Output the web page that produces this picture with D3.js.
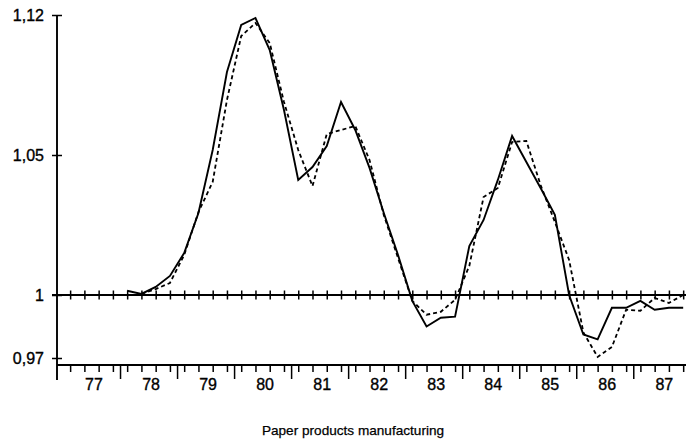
<!DOCTYPE html>
<html>
<head>
<meta charset="utf-8">
<script src="https://cdn.jsdelivr.net/npm/d3@7/dist/d3.min.js"></script>
<style>
  html, body { margin: 0; padding: 0; background: #fff; }
  svg { display: block; }
  text { font-family: "Liberation Sans", Arial, Helvetica, sans-serif; fill: #000; }
</style>
</head>
<body>
<svg id="chart" width="687" height="445"></svg>
<script>
// ---- data ----
const years = [77, 78, 79, 80, 81, 82, 83, 84, 85, 86, 87];
const yTicks = [0.97, 1, 1.05, 1.12];
const yTickLabels = ["0,97", "1", "1,05", "1,12"];
const title = "Paper products manufacturing";

// quarterly observations 78Q1 .. 87Q4
const quarters = [
  "78Q1","78Q2","78Q3","78Q4","79Q1","79Q2","79Q3","79Q4",
  "80Q1","80Q2","80Q3","80Q4","81Q1","81Q2","81Q3","81Q4",
  "82Q1","82Q2","82Q3","82Q4","83Q1","83Q2","83Q3","83Q4",
  "84Q1","84Q2","84Q3","84Q4","85Q1","85Q2","85Q3","85Q4",
  "86Q1","86Q2","86Q3","86Q4","87Q1","87Q2","87Q3","87Q4"
];
const solidSeries = [
  1.0015, 1.0004, 1.0029, 1.0068, 1.0150, 1.0293, 1.0525, 1.0915,
  1.1150, 1.1185, 1.1025, 1.0725, 1.0411, 1.0457, 1.0545, 1.0765,
  1.0625, 1.0454, 1.0293, 1.0143, 0.9972, 0.9850, 0.9892, 0.9897,
  1.0175, 1.0268, 1.0411, 1.0595, 1.0475, 1.0382, 1.0286, 1.0000,
  0.9812, 0.9789, 0.9939, 0.9939, 0.9972, 0.9930, 0.9939, 0.9939
];
const dashedSeries = [
  null,   1.0004, 1.0021, 1.0043, 1.0143, 1.0296, 1.0404, 1.0775,
  1.1095, 1.1160, 1.1060, 1.0765, 1.0525, 1.0389, 1.0605, 1.0625,
  1.0645, 1.0482, 1.0286, 1.0132, 0.9972, 0.9906, 0.9920, 0.9977,
  1.0104, 1.0350, 1.0382, 1.0565, 1.0570, 1.0393, 1.0261, 1.0125,
  0.9822, 0.9705, 0.9752, 0.9930, 0.9925, 0.9986, 0.9962, 1.0000
];

// ---- helpers ----
const qTime = q => (+q.slice(0, 2)) + ((+q.slice(3)) - 0.5) / 4;

const svg = d3.select("#chart");

const x = d3.scaleLinear().domain([77, 88]).range([63, 690.3]);
const y = d3.scaleLinear().domain([0.97, 1, 1.05, 1.12]).range([358, 295, 155, 15]);

const axisX0 = 57, axisXEnd = 686, bottomY = 365;

// all quarter mid positions 77Q1 .. 87Q4
const quarterMids = [];
years.forEach(yr => { for (let q = 1; q <= 4; q++) quarterMids.push(yr + (q - 0.5) / 4); });
const yearBounds = years.slice(1);
const yearCenters = years.map(yr => yr + 0.5);

const stroke = "#000";
const textStyle = sel => sel
  .style("font-family", '"Liberation Sans", Arial, sans-serif')
  .attr("stroke", "#000").attr("stroke-width", 0.35);

// y axis line
svg.append("line")
  .attr("x1", axisX0).attr("x2", axisX0)
  .attr("y1", y(1.12)).attr("y2", 380)
  .attr("stroke", stroke).attr("stroke-width", 1.9);

// bottom axis line
svg.append("line")
  .attr("x1", axisX0).attr("x2", axisXEnd)
  .attr("y1", bottomY).attr("y2", bottomY)
  .attr("stroke", stroke).attr("stroke-width", 1.9);

// line at 1
svg.append("line")
  .attr("x1", 52).attr("x2", axisXEnd)
  .attr("y1", y(1)).attr("y2", y(1))
  .attr("stroke", stroke).attr("stroke-width", 1.9);

// y ticks (crossing) + labels
const yAxis = d3.axisLeft(y).tickValues(yTicks)
  .tickSize(10).tickPadding(8)
  .tickFormat(d => yTickLabels[yTicks.indexOf(d)]);
const gy = svg.append("g").attr("transform", `translate(${axisX0 + 5},0)`).call(yAxis);
gy.select(".domain").remove();
gy.selectAll(".tick line").attr("stroke", stroke).attr("stroke-width", 1.5);
gy.selectAll(".tick text").attr("font-size", 16).attr("dy", "0.34em").call(textStyle);

// crossing ticks on the 1 line
const axisOne = d3.axisBottom(x).tickValues(quarterMids).tickSize(9).tickFormat("");
const g1 = svg.append("g").attr("transform", `translate(0,${y(1) - 4.5})`).call(axisOne);
g1.select(".domain").remove();
g1.selectAll(".tick line").attr("stroke", stroke).attr("stroke-width", 1.5);

// bottom quarter ticks
const axisQ = d3.axisBottom(x).tickValues(quarterMids).tickSize(7).tickFormat("");
const gq = svg.append("g").attr("transform", `translate(0,${bottomY})`).call(axisQ);
gq.select(".domain").remove();
gq.selectAll(".tick line").attr("stroke", stroke).attr("stroke-width", 1.5);

// bottom year boundary ticks
const axisYB = d3.axisBottom(x).tickValues(yearBounds).tickSize(14).tickFormat("");
const gyb = svg.append("g").attr("transform", `translate(0,${bottomY})`).call(axisYB);
gyb.select(".domain").remove();
gyb.selectAll(".tick line").attr("stroke", stroke).attr("stroke-width", 1.5);

// year labels
const axisYL = d3.axisBottom(x).tickValues(yearCenters).tickSize(0).tickPadding(14)
  .tickFormat(d => String(Math.floor(d)));
const gyl = svg.append("g").attr("transform", `translate(2,${bottomY})`).call(axisYL);
gyl.select(".domain").remove();
gyl.selectAll(".tick text").attr("font-size", 16).call(textStyle);

// series
const solidData = quarters.map((q, i) => ({ t: qTime(q), v: solidSeries[i] }));
const dashedData = quarters.map((q, i) => ({ t: qTime(q), v: dashedSeries[i] }));

const line = d3.line()
  .defined(d => d.v != null)
  .x(d => x(d.t)).y(d => y(d.v));

svg.append("path").datum(dashedData)
  .attr("d", line).attr("fill", "none")
  .attr("stroke", stroke).attr("stroke-width", 1.8)
  .attr("stroke-dasharray", "4,3");

svg.append("path").datum(solidData)
  .attr("d", line).attr("fill", "none")
  .attr("stroke", stroke).attr("stroke-width", 1.9)
  .attr("stroke-linejoin", "miter");

// title
svg.append("text")
  .attr("x", 353).attr("y", 435)
  .attr("text-anchor", "middle")
  .attr("font-size", 13.6)
  .call(textStyle)
  .attr("stroke-width", 0.25)
  .text(title);
</script>
</body>
</html>
